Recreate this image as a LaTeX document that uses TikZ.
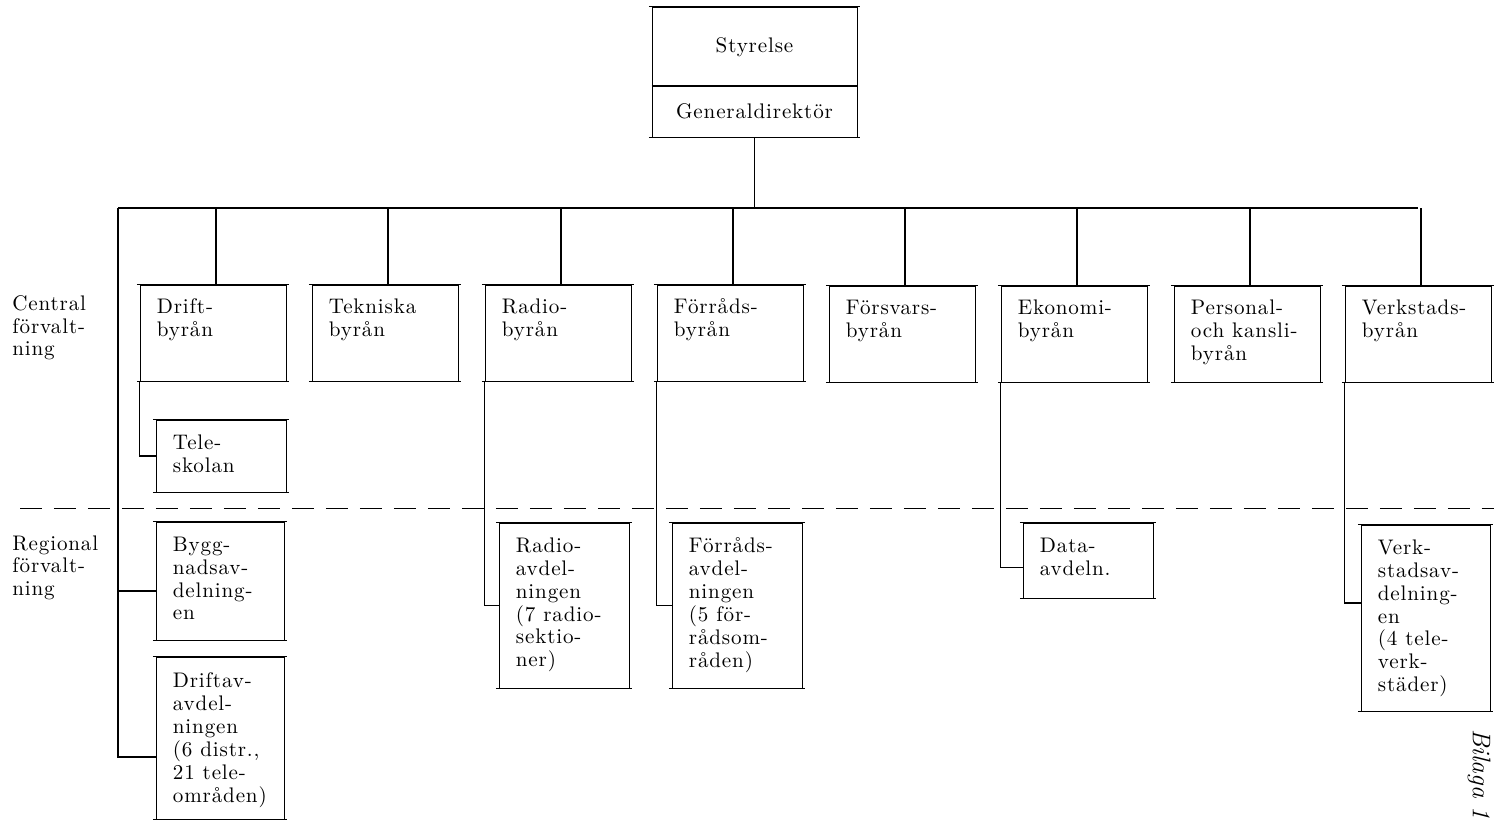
\documentclass[tikz,border=0pt]{standalone}
\usepackage{fontspec}
\newfontfamily\chartfont{lmroman10-regular.otf}[LetterSpace=4]

\tikzset{
  chart/.style={font=\chartfont\fontsize{12}{13}\selectfont},
  unit/.style={draw, line width=.5pt, inner sep=0pt,
    append after command={
      ([xshift=-1.5pt]\tikzlastnode.north west) edge[line width=.9pt] ([xshift=1.5pt]\tikzlastnode.north east)
      ([xshift=-1.5pt]\tikzlastnode.south west) edge[line width=.9pt] ([xshift=1.5pt]\tikzlastnode.south east)}},
  byra/.style={unit, minimum width=2.92cm, minimum height=1.92cm},
  txt/.style={chart, anchor=north west, align=left, inner sep=0pt},
  link/.style={line width=.6pt},
  regline/.style={line width=.5pt, dash pattern=on 0.44cm off 0.24cm},
}

\begin{document}
\begin{tikzpicture}[x=0.02cm,y=-0.02cm]
\useasboundingbox (0,0) rectangle (1494,823);

% ledning
\node[unit, minimum width=4.1cm, minimum height=2.6cm] (top) at (754.5,72) {};
\draw[link] (top.west |- 0,86) -- (top.east |- 0,86);
\node[chart] (styr) at (754.5,47) {Styrelse};
\node[chart] (gd) at (754.5,111) {Generaldirektör};

% byråer
\node[byra] (drift) at (213,333) {};
\node[byra] (tekn) at (385,333) {};
\node[byra] (radio) at (558,333) {};
\node[byra] (forrad) at (730,333) {};
\node[byra] (forsvar) at (902,334) {};
\node[byra] (ekon) at (1074,334) {};
\node[byra] (pers) at (1247,334) {};
\node[byra] (verk) at (1418,334) {};
\node[txt] (drift-t) at ([shift={(17,14)}]drift.north west) {Drift-\\byrån};
\node[txt] (tekn-t) at ([shift={(17,14)}]tekn.north west) {Tekniska\\byrån};
\node[txt] (radio-t) at ([shift={(17,14)}]radio.north west) {Radio-\\byrån};
\node[txt] (forrad-t) at ([shift={(17,14)}]forrad.north west) {Förråds-\\byrån};
\node[txt] (forsvar-t) at ([shift={(17,14)}]forsvar.north west) {Försvars-\\byrån};
\node[txt] (ekon-t) at ([shift={(17,14)}]ekon.north west) {Ekonomi-\\byrån};
\node[txt] (pers-t) at ([shift={(17,14)}]pers.north west) {Personal-\\och kansli-\\byrån};
\node[txt] (verk-t) at ([shift={(17,14)}]verk.north west) {Verkstads-\\byrån};

% underordnade enheter
\node[unit, minimum width=2.6cm, minimum height=1.44cm] (tele) at (221,456) {};
\node[unit, minimum width=2.56cm, minimum height=2.36cm] (bygg) at (220,581) {};
\node[unit, minimum width=2.56cm, minimum height=3.24cm] (driftav) at (220,738) {};
\node[unit, minimum width=2.6cm, minimum height=3.3cm] (radioav) at (564,605.5) {};
\node[unit, minimum width=2.6cm, minimum height=3.3cm] (forradav) at (737,605.5) {};
\node[unit, minimum width=2.6cm, minimum height=1.5cm] (dataav) at (1088,560.5) {};
\node[unit, minimum width=2.58cm, minimum height=3.72cm] (verkav) at (1425.5,618) {};
\node[txt] (tele-t) at ([shift={(17,15)}]tele.north west) {Tele-\\skolan};
\node[txt] (bygg-t) at ([shift={(17,15)}]bygg.north west) {Bygg-\\nadsav-\\delning-\\en};
\node[txt] (driftav-t) at ([shift={(17,16)}]driftav.north west) {Driftav-\\avdel-\\ningen\\(6 distr.,\\21 tele-\\områden)};
\node[txt] (radioav-t) at ([shift={(17,15)}]radioav.north west) {Radio-\\avdel-\\ningen\\(7 radio-\\sektio-\\ner)};
\node[txt] (forradav-t) at ([shift={(17,15)}]forradav.north west) {Förråds-\\avdel-\\ningen\\(5 för-\\rådsom-\\råden)};
\node[txt] (dataav-t) at ([shift={(17,15)}]dataav.north west) {Data-\\avdeln.};
\node[txt] (verkav-t) at ([shift={(17,15)}]verkav.north west) {Verk-\\stadsav-\\delning-\\en\\(4 tele-\\verk-\\städer)};

% nivåer
\node[txt] (central) at (12,295) {Central\\förvalt-\\ning};
\node[txt] (regional) at (12,535) {Regional\\förvalt-\\ning};
\coordinate (dashL) at (20,508);
\coordinate (dashR) at (1494,508);
\draw[regline] (dashL) -- (dashR);

% linjer
\coordinate (busL) at (118,208);
\draw[link] (top.south) -- (top.south |- busL);
\draw[link] (busL) -- (verk.north |- busL);
\foreach \n in {drift,tekn,radio,forrad,forsvar,ekon,pers,verk}
  \draw[link] ([xshift=0.06cm]\n.north |- busL) -- ([xshift=0.06cm]\n.north);
\draw[link] (busL) |- ([yshift=-0.38cm]driftav.west);
\draw[link] ([yshift=-0.2cm]bygg.west) -| (busL);
\draw[link] (drift.south west) |- (tele.west);
\draw[link] (radio.south west) |- (radioav.west);
\draw[link] (forrad.south west) |- (forradav.west);
\draw[link] (ekon.south west) |- ([yshift=-0.14cm]dataav.west);
\draw[link] (verk.south west) |- ([yshift=0.3cm]verkav.west);

\node[rotate=-90, anchor=north west, inner sep=0pt, font=\itshape\fontsize{14.5}{17}\selectfont] (bilaga) at (1491,729) {Bilaga 1};
\end{tikzpicture}
\end{document}
